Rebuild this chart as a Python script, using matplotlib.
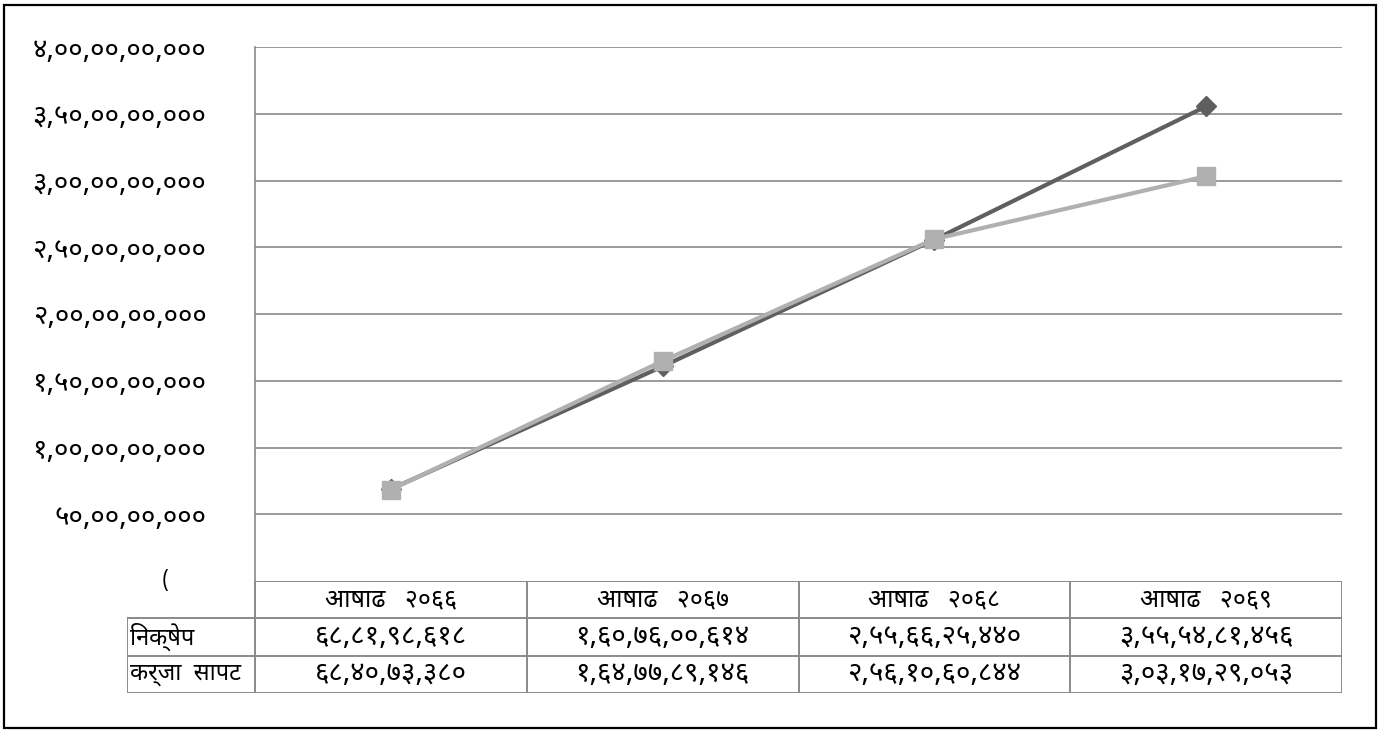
import matplotlib
matplotlib.use('Agg')
import matplotlib.pyplot as plt
from matplotlib.lines import Line2D

# data
categories = ['आषाढ   २०६६', 'आषाढ   २०६७', 'आषाढ   २०६८', 'आषाढ   २०६९']
series_names = ['निक्षेप', 'कर्जा  सापट']
deposits = [688198618, 1607600614, 2556625440, 3555481456]
loans = [684073380, 1647789146, 2561060844, 3031729053]
yticks = [500000000, 1000000000, 1500000000, 2000000000,
          2500000000, 3000000000, 3500000000, 4000000000]

DEV_DIGITS = '०१२३४५६७८९'


def to_nepali(n):
    # Indian style grouping: last 3 digits, then groups of 2
    s = str(int(n))
    head, tail = s[:-3], s[-3:]
    groups = []
    while len(head) > 2:
        groups.insert(0, head[-2:])
        head = head[:-2]
    if head:
        groups.insert(0, head)
    out = ','.join(groups + [tail])
    return ''.join(DEV_DIGITS[int(c)] if c.isdigit() else c for c in out)


def visual(s):
    # no text shaping in matplotlib: put the i-matra before its consonant
    chars = list(s)
    for i in range(1, len(chars)):
        if chars[i] == 'ि':
            chars[i - 1], chars[i] = chars[i], chars[i - 1]
    return ''.join(chars)


plt.rcParams['font.family'] = ['Noto Sans Devanagari', 'FreeSans', 'DejaVu Sans']

W, H = 1381, 733
fig = plt.figure(figsize=(W / 100, H / 100), dpi=100)

# outer frame
fig.add_artist(plt.Rectangle((4 / W, 5 / H), 1372 / W, 723 / H, transform=fig.transFigure,
                             fill=False, edgecolor='black', linewidth=1.6))

px0, px1 = 255, 1342
py_top, py_bot = 47, 581
ax = fig.add_axes([px0 / W, 1 - py_bot / H, (px1 - px0) / W, (py_bot - py_top) / H])

x = list(range(len(categories)))
ax.plot(x, deposits, color='#5f5f5f', linewidth=3, marker='D', markersize=10, zorder=3)
ax.plot(x, loans, color='#b0b0b0', linewidth=3, marker='s', markersize=13, zorder=4)

ax.set_xlim(-0.5, len(categories) - 0.5)
ax.set_ylim(0, 4000000000)
ax.set_yticks(yticks)
ax.set_yticklabels([to_nepali(v) for v in yticks], fontsize=20)
ax.tick_params(axis='y', length=0, pad=35)
ax.set_xticks([])
ax.grid(axis='y', color='#8a8a8a', linewidth=1.2)
ax.set_axisbelow(True)
for side in ['top', 'right', 'bottom']:
    ax.spines[side].set_visible(False)
ax.spines['left'].set_color('#8a8a8a')
ax.spines['left'].set_linewidth(1.2)
ax.text(-0.5 - 90 / 271.75, 0, '(', fontsize=15, ha='center', va='center')

# data table under the plot
tx0, ty_bot = 127, 693
label_w = (px0 - tx0) / ((px1 - px0) / len(categories))
tax = fig.add_axes([tx0 / W, 1 - ty_bot / H, (px1 - tx0) / W, (ty_bot - py_bot) / H])
tax.set_xlim(-0.5 - label_w, len(categories) - 0.5)
tax.set_ylim(3, 0)
tax.axis('off')

lc = '#8a8a8a'
lw = 1.4
# horizontal lines
tax.add_line(Line2D([-0.5, len(categories) - 0.5], [0, 0], color=lc, lw=lw))
for r in [1, 2, 3]:
    tax.add_line(Line2D([-0.5 - label_w, len(categories) - 0.5], [r, r], color=lc, lw=lw))
# vertical lines
tax.add_line(Line2D([-0.5 - label_w] * 2, [1, 3], color=lc, lw=lw))
for c in range(len(categories) + 1):
    tax.add_line(Line2D([c - 0.5] * 2, [0, 3], color=lc, lw=lw))

for i, cat in enumerate(categories):
    tax.text(i, 0.5, cat, ha='center', va='center', fontsize=18)
    tax.text(i, 1.5, to_nepali(deposits[i]), ha='center', va='center', fontsize=20)
    tax.text(i, 2.5, to_nepali(loans[i]), ha='center', va='center', fontsize=20)
for r, name in enumerate(series_names):
    tax.text(-0.5 - label_w + 0.01, r + 1.5, visual(name), ha='left', va='center', fontsize=17)

fig.savefig('out.png', dpi=100)
